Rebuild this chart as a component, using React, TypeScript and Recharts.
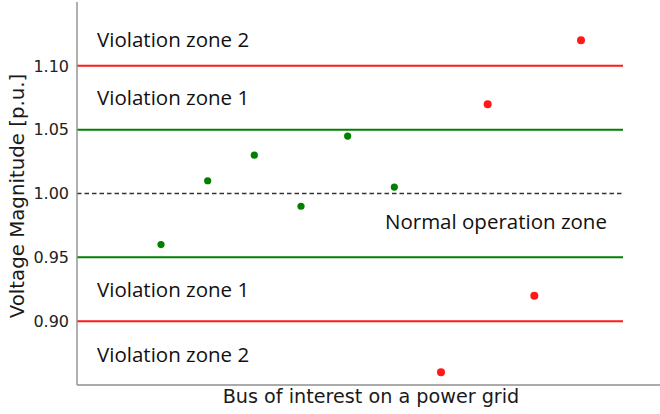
import React from "react";
import {
  ScatterChart,
  Scatter,
  XAxis,
  YAxis,
  ReferenceLine,
  ReferenceDot,
  Label,
} from "recharts";

// bus position along the grid and measured voltage (p.u.)
const busIndex = [1, 2, 3, 4, 5, 6, 7, 8, 9, 10];
const voltage = [0.96, 1.01, 1.03, 0.99, 1.045, 1.005, 0.86, 1.07, 0.92, 1.12];

const yTicks = [0.9, 0.95, 1.0, 1.05, 1.1];
const normalBand = [0.95, 1.05];
const violationLimits = [0.9, 1.1];
const nominal = 1.0;

const zoneText = ["Violation zone 2", "Violation zone 1", "Normal operation zone", "Violation zone 1", "Violation zone 2"];
const zoneX = [-0.37, -0.37, 5.8, -0.37, -0.37];
const zoneY = [1.1151, 1.0694, 0.972, 0.9191, 0.8681];

const X_MIN = -0.8;
const X_MAX = 11.8;
const LINE_END = 10.9;

const RED = "#ff1a1a";
const GREEN = "#008000";
const SPINE = "#8f8f8f";
const ANNOT_FONT = "Open Sans";
const AXIS_FONT = "DejaVu Sans";

const points = busIndex.map((b, i) => ({ x: b, y: voltage[i] }));
const normalPts = points.filter((p) => p.y >= normalBand[0] && p.y <= normalBand[1]);
const violPts = points.filter((p) => p.y < normalBand[0] || p.y > normalBand[1]);

const dot = (color: string, r: number) => (p: any) =>
  <circle cx={p.cx} cy={p.cy} r={r} fill={color} />;

const seg = (y: number) => [
  { x: X_MIN, y },
  { x: LINE_END, y },
];

export default function App() {
  return (
    <div
      style={{
        position: "absolute",
        left: 0,
        top: 0,
        width: 660,
        height: 414,
        overflow: "hidden",
        background: "#fff",
      }}
    >
      <ScatterChart
        width={670}
        height={414}
        margin={{ top: 2, right: 5, bottom: 0, left: 0 }}
      >
        <XAxis
          type="number"
          dataKey="x"
          domain={[X_MIN, X_MAX]}
          allowDataOverflow
          tick={false}
          tickLine={false}
          axisLine={{ stroke: SPINE, strokeWidth: 1.4 }}
          height={29}
        >
          <Label
            content={({ viewBox }: any) => (
              <text
                x={viewBox.x + viewBox.width / 2}
                y={viewBox.y + 18}
                textAnchor="middle"
                style={{ fontFamily: AXIS_FONT, fontSize: 19.2 }}
                fill="#1a1a1a"
              >
                Bus of interest on a power grid
              </text>
            )}
          />
        </XAxis>
        <YAxis
          type="number"
          dataKey="y"
          domain={[0.85, 1.15]}
          allowDataOverflow
          ticks={yTicks}
          tickFormatter={(v: number) => v.toFixed(2)}
          tickLine={false}
          axisLine={{ stroke: SPINE, strokeWidth: 1.4 }}
          tick={{ style: { fontFamily: AXIS_FONT, fontSize: 16 }, fill: "#222" }}
          width={77}
        >
          <Label
            content={() => (
              <text
                x={17}
                y={196}
                transform="rotate(-90 17 196)"
                textAnchor="middle"
                dominantBaseline="central"
                style={{ fontFamily: AXIS_FONT, fontSize: 19.8 }}
                fill="#1a1a1a"
              >
                Voltage Magnitude [p.u.]
              </text>
            )}
          />
        </YAxis>

        {violationLimits.map((v) => (
          <ReferenceLine key={"r" + v} segment={seg(v)} stroke={RED} strokeWidth={2} />
        ))}
        {normalBand.map((v) => (
          <ReferenceLine key={"g" + v} segment={seg(v)} stroke={GREEN} strokeWidth={2} />
        ))}
        <ReferenceLine
          segment={seg(nominal)}
          stroke="#333"
          strokeWidth={1.3}
          strokeDasharray="4.5 3"
        />

        {zoneText.map((t, i) => (
          <ReferenceDot
            key={"z" + i}
            x={zoneX[i]}
            y={zoneY[i]}
            r={0}
            shape={(p: any) => (
              <text
                x={p.cx}
                y={p.cy}
                style={{ fontFamily: ANNOT_FONT, fontSize: 20.5 }}
                fill="#111"
              >
                {t}
              </text>
            )}
          />
        ))}

        <Scatter data={normalPts} fill={GREEN} shape={dot(GREEN, 3.6)} isAnimationActive={false} />
        <Scatter data={violPts} fill={RED} shape={dot(RED, 4)} isAnimationActive={false} />
      </ScatterChart>
    </div>
  );
}
